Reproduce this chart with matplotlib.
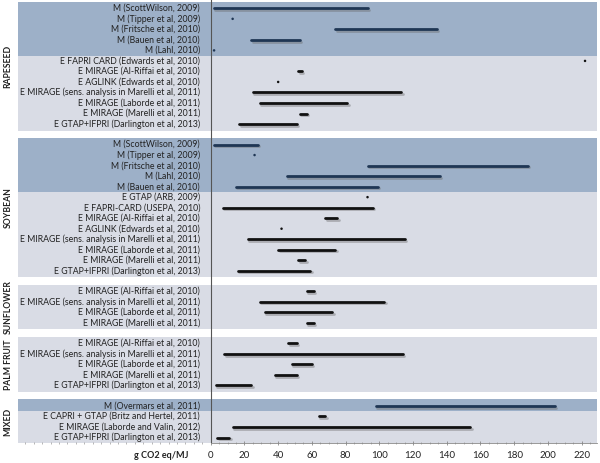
import numpy as np
import matplotlib
matplotlib.use("Agg")
import matplotlib.pyplot as plt
import matplotlib.patheffects as pe
from matplotlib.ticker import MultipleLocator

# ── data (g CO2 eq/MJ, low / high of each estimate range) ──
groups = ["RAPESEED", "SOYBEAN", "SUNFLOWER", "PALM FRUIT", "MIXED"]

rapeseed_labels = [
    "M (ScottWilson, 2009)", "M (Tipper et al, 2009)", "M (Fritsche et al, 2010)",
    "M (Bauen et al, 2010)", "M (Lahl, 2010)",
    "E FAPRI CARD (Edwards et al, 2010)", "E MIRAGE (Al-Riffai et al, 2010)",
    "E AGLINK (Edwards et al, 2010)", "E MIRAGE (sens. analysis in Marelli et al, 2011)",
    "E MIRAGE (Laborde et al, 2011)", "E MIRAGE (Marelli et al, 2011)",
    "E GTAP+IFPRI (Darlington et al, 2013)",
]
rapeseed_low = [2, 13, 74, 24, 2, 222, 52, 40, 25, 29, 53, 17]
rapeseed_high = [93, 13, 134, 53, 2, 222, 54, 40, 113, 81, 57, 51]

soybean_labels = [
    "M (ScottWilson, 2009)", "M (Tipper et al, 2009)", "M (Fritsche et al, 2010)",
    "M (Lahl, 2010)", "M (Bauen et al, 2010)",
    "E GTAP (ARB, 2009)", "E FAPRI-CARD (USEPA, 2010)", "E MIRAGE (Al-Riffai et al, 2010)",
    "E AGLINK (Edwards et al, 2010)", "E MIRAGE (sens. analysis in Marelli et al, 2011)",
    "E MIRAGE (Laborde et al, 2011)", "E MIRAGE (Marelli et al, 2011)",
    "E GTAP+IFPRI (Darlington et al, 2013)",
]
soybean_low = [2, 26, 93, 45, 15, 93, 7, 68, 42, 22, 40, 52, 16]
soybean_high = [28, 26, 188, 136, 99, 93, 96, 75, 42, 115, 74, 56, 59]

sunflower_labels = [
    "E MIRAGE (Al-Riffai et al, 2010)", "E MIRAGE (sens. analysis in Marelli et al, 2011)",
    "E MIRAGE (Laborde et al, 2011)", "E MIRAGE (Marelli et al, 2011)",
]
sunflower_low = [57, 29, 32, 57]
sunflower_high = [61, 103, 72, 61]

palm_labels = [
    "E MIRAGE (Al-Riffai et al, 2010)", "E MIRAGE (sens. analysis in Marelli et al, 2011)",
    "E MIRAGE (Laborde et al, 2011)", "E MIRAGE (Marelli et al, 2011)",
    "E GTAP+IFPRI (Darlington et al, 2013)",
]
palm_low = [46, 8, 48, 38, 3]
palm_high = [51, 114, 60, 51, 24]

mixed_labels = [
    "M (Overmars et al, 2011)", "E CAPRI + GTAP (Britz and Hertel, 2011)",
    "E MIRAGE (Laborde and Valin, 2012)", "E GTAP+IFPRI (Darlington et al, 2013)",
]
mixed_low = [98, 64, 13, 4]
mixed_high = [204, 68, 154, 11]

all_labels = [rapeseed_labels, soybean_labels, sunflower_labels, palm_labels, mixed_labels]
all_low = [rapeseed_low, soybean_low, sunflower_low, palm_low, mixed_low]
all_high = [rapeseed_high, soybean_high, sunflower_high, palm_high, mixed_high]

xticks = list(range(0, 221, 20))

# ── style ──
M_BAND = "#9db0c8"
E_BAND = "#d9dce5"
M_BAR = "#1f3654"
E_BAR = "#111111"
FONT = "Lato"
GAP = 0.95  # extra space between crop groups (in rows)
PAD = 0.62  # band half-height around first/last row

fig = plt.figure(figsize=(6.0, 4.63), dpi=100, facecolor="white")
ax = fig.add_axes([18 / 600, 20 / 463, 579 / 600, 443 / 463])
ax.set_facecolor("white")

shadow = [pe.SimpleLineShadow(offset=(1.0, -1.2), shadow_color="#666666", alpha=0.4),
          pe.Normal()]

row = 0.0
for g, labels, lows, highs in zip(groups, all_labels, all_low, all_high):
    ys = row + np.arange(len(labels))
    kinds = [lab[0] for lab in labels]
    n_m = kinds.count("M")
    # background bands
    if n_m:
        ax.axhspan(ys[0] - PAD, ys[n_m - 1] + 0.5, color=M_BAND, lw=0, zorder=0)
        ax.axhspan(ys[n_m - 1] + 0.5, ys[-1] + PAD, color=E_BAND, lw=0, zorder=0)
    else:
        ax.axhspan(ys[0] - PAD, ys[-1] + PAD, color=E_BAND, lw=0, zorder=0)
    for y, lab, k, lo, hi in zip(ys, labels, kinds, lows, highs):
        col = M_BAR if k == "M" else E_BAR
        if hi > lo:
            ln, = ax.plot([lo, hi], [y, y], color=col, lw=2.0,
                          solid_capstyle="round", zorder=3)
        else:
            ln, = ax.plot([lo], [y], "o", color=col, ms=1.8, mew=0, zorder=3)
        ln.set_path_effects(shadow)
        ax.text(-6.3, y, lab, ha="right", va="center", fontsize=6.3,
                family=FONT, color="#222222", zorder=4)
    ax.text(-120.2, (ys[0] + ys[-1]) / 2, g, rotation=90, ha="center", va="center",
            fontsize=6.2, fontweight="bold", family=FONT, color="#222222")
    row = ys[-1] + 1 + GAP

ax.axvline(0, color="#555555", lw=0.8, zorder=2)

ax.set_xlim(-114.3, 229.1)
ax.set_ylim(41.32, -0.79)
ax.set_xticks(xticks)
ax.xaxis.set_minor_locator(MultipleLocator(5))
ax.set_yticks([])
for s in ["top", "left", "right"]:
    ax.spines[s].set_visible(False)
ax.spines["bottom"].set_color("#888888")
ax.spines["bottom"].set_linewidth(0.6)
ax.spines["bottom"].set_bounds(0, 229.1)
ax.tick_params(axis="x", which="major", length=3, width=0.6, color="#888888",
               direction="inout", pad=4, labelsize=7, labelcolor="#222222")
ax.tick_params(axis="x", which="minor", length=2, width=0.5, color="#999999",
               direction="inout")
for t in ax.get_xticklabels():
    t.set_family(FONT)

fig.text(161 / 600, 1 - 455 / 463, "g CO2 eq/MJ", ha="center", va="center",
         fontsize=6.5, fontweight="bold", family=FONT, color="#222222")

fig.savefig("out.png", dpi=100, facecolor="white")
